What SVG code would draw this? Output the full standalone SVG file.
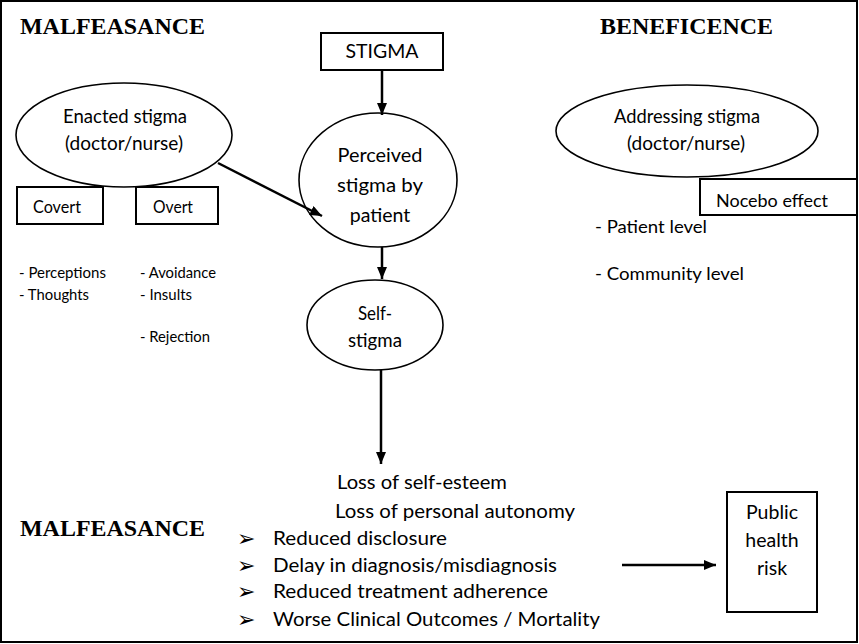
<svg xmlns="http://www.w3.org/2000/svg" width="859" height="644" viewBox="0 0 859 644">
<defs>
<style>
.bg{fill:#fff}
.frame{fill:none;stroke:#000;stroke-width:2}
.shape{fill:#fff;stroke:#000;stroke-width:1.6}
.box{fill:#fff;stroke:#000;stroke-width:2}
.t{font-family:Lato,"Liberation Sans",sans-serif;font-size:19.5px;fill:#000}
.tm{font-family:Lato,"Liberation Sans",sans-serif;font-size:17.5px;fill:#000}
.ts{font-family:Lato,"Liberation Sans",sans-serif;font-size:15px;fill:#000}
.h{font-family:"Liberation Serif","Times New Roman",serif;font-size:24px;font-weight:bold;fill:#000}
.b{font-family:"DejaVu Sans",sans-serif;font-size:22px;fill:#000}
.c{text-anchor:middle}
.conn{stroke:#000;stroke-width:2.5;fill:none}
</style>
<marker id="ah" markerUnits="userSpaceOnUse" markerWidth="13" markerHeight="11" refX="12" refY="5" orient="auto">
<path d="M0,0 L12,5 L0,10 z" fill="#000"/>
</marker>
</defs>
<rect class="bg" x="0" y="0" width="859" height="644"/>
<rect class="frame" x="1" y="1" width="856" height="641"/>

<g id="headings">
<text class="h" x="20" y="34" textLength="185" lengthAdjust="spacingAndGlyphs">MALFEASANCE</text>
<text class="h" x="600" y="34" textLength="173" lengthAdjust="spacingAndGlyphs">BENEFICENCE</text>
<text class="h" x="20" y="536" textLength="185" lengthAdjust="spacingAndGlyphs">MALFEASANCE</text>
</g>

<g id="stigma">
<rect class="box" x="321" y="33" width="122" height="37"/>
<text class="t c" x="382" y="58" textLength="73" lengthAdjust="spacingAndGlyphs">STIGMA</text>
</g>

<g id="enacted">
<ellipse class="shape" cx="124" cy="135" rx="108" ry="52"/>
<text class="t c" x="125" y="123" textLength="124" lengthAdjust="spacingAndGlyphs">Enacted stigma</text>
<text class="t c" x="124" y="150" textLength="118" lengthAdjust="spacingAndGlyphs">(doctor/nurse)</text>
</g>

<g id="covert">
<rect class="box" x="17" y="187" width="86" height="37"/>
<text class="tm c" x="57" y="213" textLength="48" lengthAdjust="spacingAndGlyphs">Covert</text>
</g>

<g id="overt">
<rect class="box" x="136" y="187" width="82" height="37"/>
<text class="tm c" x="173" y="213" textLength="40" lengthAdjust="spacingAndGlyphs">Overt</text>
</g>

<g id="covert-list">
<text class="ts" x="19" y="278" textLength="87" lengthAdjust="spacingAndGlyphs">- Perceptions</text>
<text class="ts" x="19" y="300" textLength="70" lengthAdjust="spacingAndGlyphs">- Thoughts</text>
</g>

<g id="overt-list">
<text class="ts" x="140" y="278" textLength="76" lengthAdjust="spacingAndGlyphs">- Avoidance</text>
<text class="ts" x="140" y="300" textLength="52" lengthAdjust="spacingAndGlyphs">- Insults</text>
<text class="ts" x="140" y="342" textLength="70" lengthAdjust="spacingAndGlyphs">- Rejection</text>
</g>

<g id="perceived">
<ellipse class="shape" cx="378" cy="180" rx="79" ry="67"/>
<text class="t c" x="380" y="162" textLength="85" lengthAdjust="spacingAndGlyphs">Perceived</text>
<text class="t c" x="380" y="192" textLength="86" lengthAdjust="spacingAndGlyphs">stigma by</text>
<text class="t c" x="380" y="222">patient</text>
</g>

<g id="self-stigma">
<ellipse class="shape" cx="375" cy="325" rx="68" ry="45"/>
<text class="t c" x="375" y="320" textLength="34" lengthAdjust="spacingAndGlyphs">Self-</text>
<text class="t c" x="375" y="347" textLength="54" lengthAdjust="spacingAndGlyphs">stigma</text>
</g>

<g id="addressing">
<ellipse class="shape" cx="687" cy="131" rx="131" ry="46"/>
<text class="t c" x="687" y="123" textLength="146" lengthAdjust="spacingAndGlyphs">Addressing stigma</text>
<text class="t c" x="686" y="150" textLength="118" lengthAdjust="spacingAndGlyphs">(doctor/nurse)</text>
</g>

<g id="nocebo">
<rect class="box" x="700" y="179" width="157" height="36"/>
<text class="tm" x="716" y="207" textLength="112" lengthAdjust="spacingAndGlyphs">Nocebo effect</text>
</g>

<g id="levels">
<text class="tm" x="595" y="233" textLength="112" lengthAdjust="spacingAndGlyphs">- Patient level</text>
<text class="tm" x="595" y="280" textLength="149" lengthAdjust="spacingAndGlyphs">- Community level</text>
</g>

<g id="consequences">
<text class="t" x="337" y="489" textLength="170" lengthAdjust="spacingAndGlyphs">Loss of self-esteem</text>
<text class="t" x="335" y="518" textLength="240" lengthAdjust="spacingAndGlyphs">Loss of personal autonomy</text>
<text class="b" x="237" y="546">➢</text>
<text class="t" x="273" y="545" textLength="174" lengthAdjust="spacingAndGlyphs">Reduced disclosure</text>
<text class="b" x="237" y="573">➢</text>
<text class="t" x="273" y="572" textLength="284" lengthAdjust="spacingAndGlyphs">Delay in diagnosis/misdiagnosis</text>
<text class="b" x="237" y="599">➢</text>
<text class="t" x="273" y="598" textLength="275" lengthAdjust="spacingAndGlyphs">Reduced treatment adherence</text>
<text class="b" x="237" y="627">➢</text>
<text class="t" x="273" y="626" textLength="327" lengthAdjust="spacingAndGlyphs">Worse Clinical Outcomes / Mortality</text>
</g>

<g id="public-health">
<rect class="box" x="727" y="492" width="90" height="120"/>
<text class="t c" x="772" y="519">Public</text>
<text class="t c" x="772" y="547">health</text>
<text class="t c" x="772" y="575">risk</text>
</g>

<g id="connectors">
<line class="conn" x1="382" y1="70" x2="382" y2="115" marker-end="url(#ah)"/>
<line class="conn" x1="382" y1="247" x2="382" y2="279" marker-end="url(#ah)"/>
<line class="conn" x1="381" y1="370" x2="381" y2="464" marker-end="url(#ah)"/>
<line class="conn" x1="218" y1="163" x2="322" y2="216" marker-end="url(#ah)"/>
<line class="conn" x1="622" y1="565" x2="716" y2="565" marker-end="url(#ah)"/>
</g>
</svg>
